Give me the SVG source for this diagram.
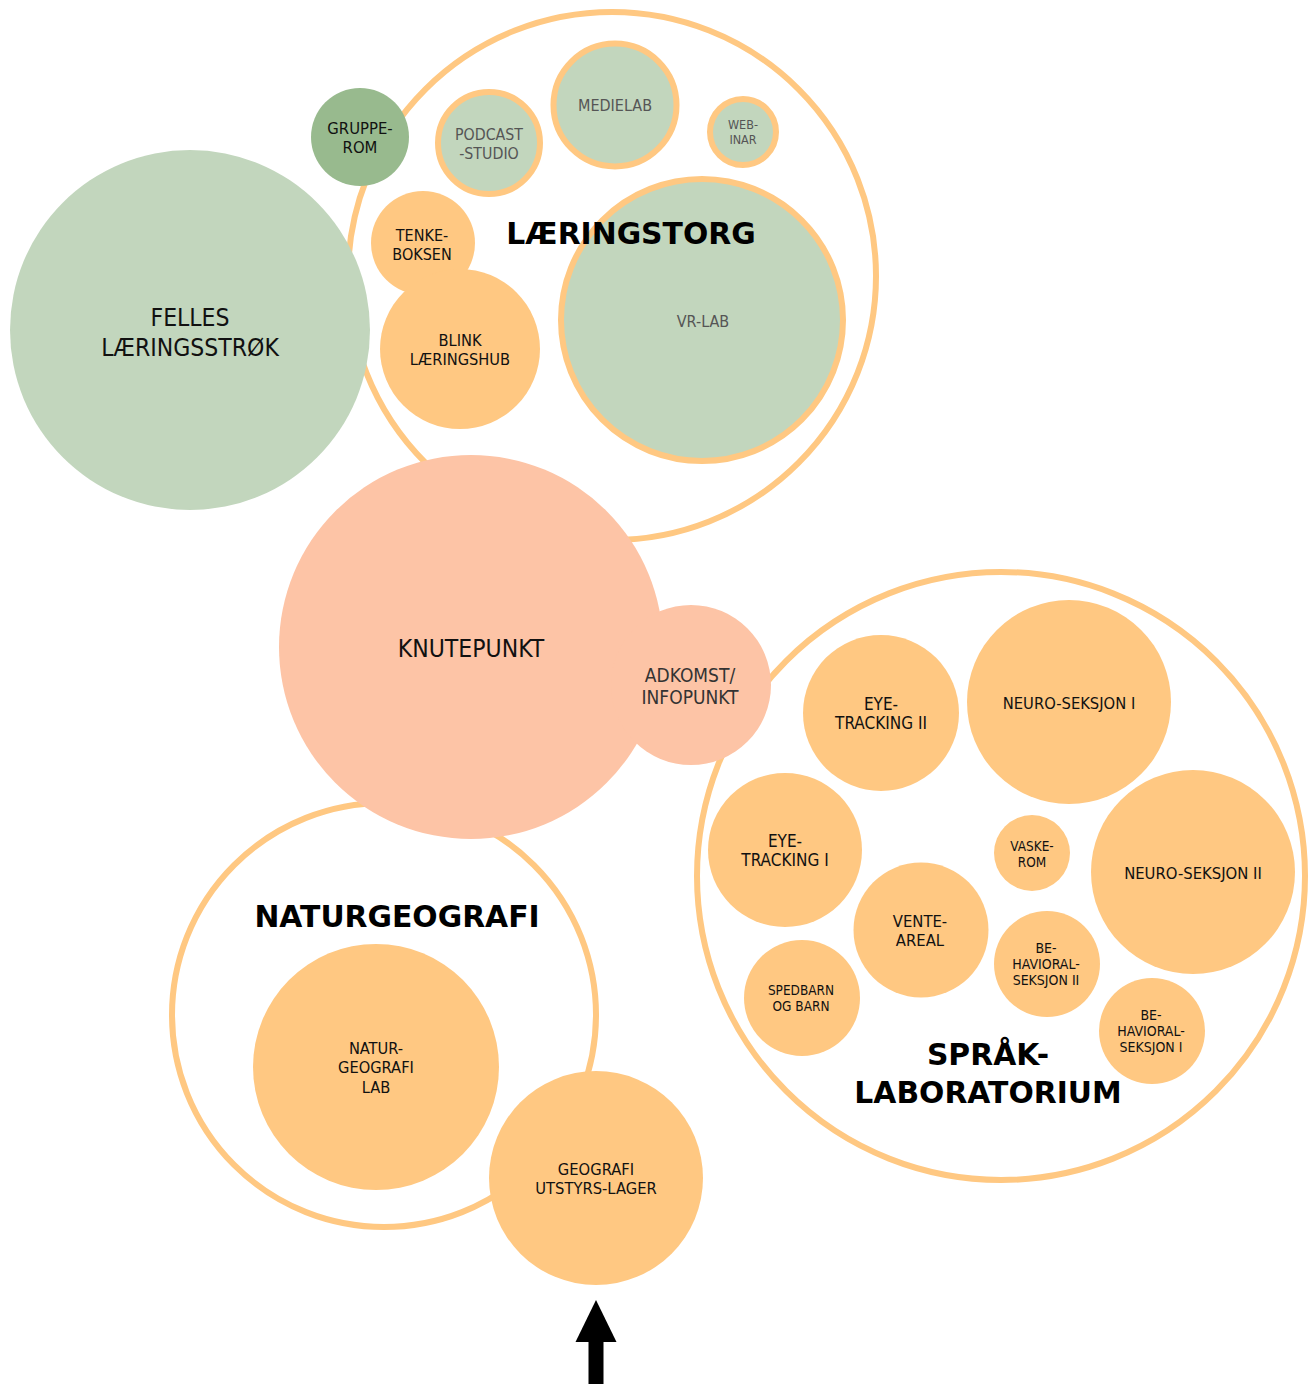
<svg xmlns="http://www.w3.org/2000/svg" width="1311" height="1384" viewBox="0 0 1311 1384">
<style>
text{font-family:"DejaVu Sans Condensed","DejaVu Sans",sans-serif;font-stretch:condensed;text-anchor:middle;fill:#111}
.ring{fill:#fff;stroke:#ffc882;stroke-width:6}
.g{fill:#c2d6bd}
.gs{fill:#c2d6bd;stroke:#ffc882;stroke-width:6}
.dg{fill:#98ba8e}
.o{fill:#ffc882}
.s{fill:#fdc4a6}
.gt{fill:#555}
.t{font-family:"DejaVu Sans",sans-serif;font-stretch:normal;font-weight:bold;font-size:29.8px;fill:#000}
</style>
<rect width="1311" height="1384" fill="#fff"/>
<g id="laeringstorg">
<circle class="ring" cx="612" cy="276" r="264"/>
</g>
<g id="naturgeografi">
<circle class="ring" cx="384" cy="1015" r="212"/>
</g>
<g id="spraklaboratorium">
<circle class="ring" cx="1001" cy="876" r="304"/>
</g>
<g id="felles">
<circle class="g" cx="190" cy="330" r="180"/>
<text x="190" y="326" font-size="24.5">FELLES</text>
<text x="190" y="356" font-size="24.5">LÆRINGSSTRØK</text>
</g>
<g id="grupperom">
<circle class="dg" cx="360" cy="137" r="49"/>
<text x="360" y="134" font-size="16.5">GRUPPE-</text>
<text x="360" y="153" font-size="16.5">ROM</text>
</g>
<g id="podcast">
<circle class="gs" cx="489" cy="143" r="51"/>
<text class="gt" x="489" y="140" font-size="15.8">PODCAST</text>
<text class="gt" x="489" y="159" font-size="15.8">-STUDIO</text>
</g>
<g id="medielab">
<circle class="gs" cx="615" cy="105" r="61.5"/>
<text class="gt" x="615" y="111" font-size="16">MEDIELAB</text>
</g>
<g id="webinar">
<circle class="gs" cx="743" cy="132" r="33"/>
<text class="gt" x="743" y="129" font-size="12.5">WEB-</text>
<text class="gt" x="743" y="144" font-size="12.5">INAR</text>
</g>
<g id="vrlab">
<circle class="gs" cx="702" cy="320" r="141"/>
<text class="gt" x="703" y="327" font-size="16">VR-LAB</text>
</g>
<g id="tenkeboksen">
<circle class="o" cx="423" cy="243" r="52"/>
<text x="422" y="241" font-size="16">TENKE-</text>
<text x="422" y="260" font-size="16">BOKSEN</text>
</g>
<g id="blink">
<circle class="o" cx="460" cy="349" r="80"/>
<text x="460" y="346" font-size="16.3">BLINK</text>
<text x="460" y="365" font-size="16.3">LÆRINGSHUB</text>
</g>
<g id="laeringstorg-title">
<text class="t" x="631" y="244">LÆRINGSTORG</text>
</g>
<g id="knutepunkt">
<circle class="s" cx="471" cy="647" r="192"/>
<text x="471" y="657" font-size="24.5">KNUTEPUNKT</text>
</g>
<g id="adkomst">
<circle class="s" cx="691" cy="685" r="80"/>
<text x="690" y="682" font-size="19" style="fill:#333">ADKOMST/</text>
<text x="690" y="704" font-size="19" style="fill:#333">INFOPUNKT</text>
</g>
<g id="naturgeografi-title">
<text class="t" x="397" y="927">NATURGEOGRAFI</text>
</g>
<g id="naturgeografilab">
<circle class="o" cx="376" cy="1067" r="123"/>
<text x="376" y="1054" font-size="16.3">NATUR-</text>
<text x="376" y="1073" font-size="16.3">GEOGRAFI</text>
<text x="376" y="1093" font-size="16.3">LAB</text>
</g>
<g id="geografilager">
<circle class="o" cx="596" cy="1178" r="107"/>
<text x="596" y="1175" font-size="16.4">GEOGRAFI</text>
<text x="596" y="1194" font-size="16.4">UTSTYRS-LAGER</text>
</g>
<g id="eyetracking2">
<circle class="o" cx="881" cy="713" r="78"/>
<text x="881" y="710" font-size="17">EYE-</text>
<text x="881" y="729" font-size="17">TRACKING II</text>
</g>
<g id="neuro1">
<circle class="o" cx="1069" cy="702" r="102"/>
<text x="1069" y="709" font-size="16.4">NEURO-SEKSJON I</text>
</g>
<g id="eyetracking1">
<circle class="o" cx="785" cy="850" r="77"/>
<text x="785" y="847" font-size="17">EYE-</text>
<text x="785" y="866" font-size="17">TRACKING I</text>
</g>
<g id="vaskerom">
<circle class="o" cx="1032" cy="853" r="38"/>
<text x="1032" y="851" font-size="13.5">VASKE-</text>
<text x="1032" y="867" font-size="13.5">ROM</text>
</g>
<g id="neuro2">
<circle class="o" cx="1193" cy="872" r="102"/>
<text x="1193" y="879" font-size="16.5">NEURO-SEKSJON II</text>
</g>
<g id="venteareal">
<circle class="o" cx="921" cy="930" r="67.5"/>
<text x="920" y="927" font-size="16.5">VENTE-</text>
<text x="920" y="946" font-size="16.5">AREAL</text>
</g>
<g id="behavioral2">
<circle class="o" cx="1047" cy="964" r="53"/>
<text x="1046" y="953" font-size="14">BE-</text>
<text x="1046" y="969" font-size="14">HAVIORAL-</text>
<text x="1046" y="985" font-size="14">SEKSJON II</text>
</g>
<g id="spedbarn">
<circle class="o" cx="802" cy="998" r="58"/>
<text x="801" y="995" font-size="13.5">SPEDBARN</text>
<text x="801" y="1011" font-size="13.5">OG BARN</text>
</g>
<g id="behavioral1">
<circle class="o" cx="1152" cy="1031" r="53"/>
<text x="1151" y="1020" font-size="14">BE-</text>
<text x="1151" y="1036" font-size="14">HAVIORAL-</text>
<text x="1151" y="1052" font-size="14">SEKSJON I</text>
</g>
<g id="sprak-title">
<text class="t" x="988" y="1065">SPRÅK-</text>
<text class="t" x="988" y="1103">LABORATORIUM</text>
</g>
<g id="connectors">
<polygon points="596,1300 575.5,1342 616.5,1342" fill="#000"/>
<rect x="588.5" y="1341" width="15" height="43" fill="#000"/>
</g>
</svg>
